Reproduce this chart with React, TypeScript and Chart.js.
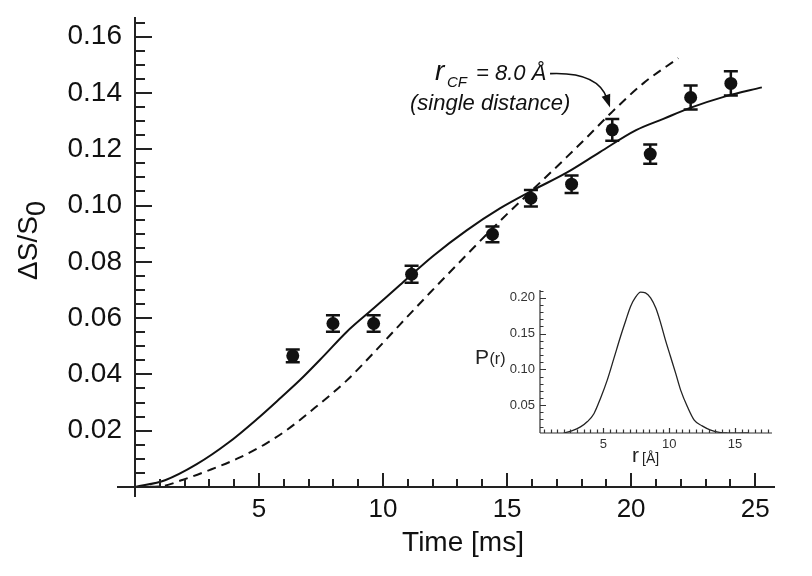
import React, { useEffect, useRef } from 'react';
import { Chart, registerables } from 'chart.js';

Chart.register(...registerables);

const FONT = '"Liberation Sans", Arial, Helvetica, sans-serif';

// ---- Main panel data ----
const timeMs = [6.36, 7.98, 9.62, 11.15, 14.41, 15.96, 17.6, 19.24, 20.77, 22.4, 24.02];
const signal = [0.0466, 0.0581, 0.0581, 0.0756, 0.0898, 0.1026, 0.1076, 0.1269, 0.1183, 0.1384, 0.1434];
const signalErr = [0.0023, 0.0029, 0.0029, 0.003, 0.0028, 0.0029, 0.0031, 0.0039, 0.0034, 0.0043, 0.0043];

const fitTime = [0, 1.21, 2.49, 3.76, 4.9, 5.91, 6.65, 7.6, 8.53, 9.62, 10.68, 12.03, 13.37, 14.71, 16.05, 17.4, 18.74, 20.2, 21.3, 22.38, 23.8, 25.27];
const fitValue = [0, 0.0024, 0.0081, 0.0157, 0.024, 0.032, 0.038, 0.0465, 0.0551, 0.0635, 0.0718, 0.0822, 0.0912, 0.099, 0.1055, 0.1117, 0.119, 0.1268, 0.1308, 0.1347, 0.1388, 0.142];

const singleTime = [0, 1.0, 1.94, 3.0, 4.23, 5.2, 6.11, 7.3, 8.53, 9.6, 10.69, 11.89, 13.37, 14.71, 16.05, 17.4, 18.3, 19.2, 20.5, 21.9];
const singleValue = [0, 0.0002, 0.0026, 0.006, 0.0105, 0.015, 0.0202, 0.0285, 0.0378, 0.0475, 0.0578, 0.069, 0.0825, 0.0945, 0.1058, 0.1172, 0.125, 0.133, 0.1435, 0.1524];

const xTicks = [5, 10, 15, 20, 25];
const yTicks = [0.02, 0.04, 0.06, 0.08, 0.1, 0.12, 0.14, 0.16];

// ---- Inset data: distance distribution ----
const distR = [2.0, 2.6, 3.27, 3.8, 4.29, 4.8, 5.3, 5.8, 6.31, 6.7, 7.07, 7.45, 7.83, 8.2, 8.59, 9.0, 9.35, 9.7, 10.1, 10.5, 10.87, 11.4, 11.9, 12.5, 13.15, 13.8, 14.4, 15.2, 16.0];
const distP = [0.011, 0.014, 0.0195, 0.027, 0.038, 0.06, 0.085, 0.115, 0.146, 0.168, 0.188, 0.201, 0.208, 0.207, 0.2, 0.185, 0.165, 0.142, 0.118, 0.094, 0.071, 0.047, 0.029, 0.021, 0.015, 0.012, 0.011, 0.0108, 0.011];
const insetXTicks = [5, 10, 15];
const insetYTicks = [0.05, 0.1, 0.15, 0.2];

const INK = '#111';

const zeroPad = (s: any) => {
  s.paddingTop = 0;
  s.paddingBottom = 0;
  s.paddingLeft = 0;
  s.paddingRight = 0;
};

const mainDeco = {
  id: 'mainDeco',
  beforeDatasetsDraw(chart: any) {
    const { ctx } = chart;
    const xs = chart.scales.x;
    const ys = chart.scales.y;
    ctx.save();
    ctx.strokeStyle = INK;
    ctx.lineWidth = 2.5;
    timeMs.forEach((t, i) => {
      const px = xs.getPixelForValue(t);
      const top = ys.getPixelForValue(signal[i] + signalErr[i]);
      const bot = ys.getPixelForValue(signal[i] - signalErr[i]);
      ctx.beginPath();
      ctx.moveTo(px, top);
      ctx.lineTo(px, bot);
      ctx.moveTo(px - 7, top);
      ctx.lineTo(px + 7, top);
      ctx.moveTo(px - 7, bot);
      ctx.lineTo(px + 7, bot);
      ctx.stroke();
    });
    ctx.restore();
  },
  afterDraw(chart: any) {
    const { ctx } = chart;
    const xs = chart.scales.x;
    const ys = chart.scales.y;
    const x0 = xs.getPixelForValue(0);
    const y0 = ys.getPixelForValue(0);
    ctx.save();
    ctx.strokeStyle = '#222';
    ctx.lineWidth = 2;
    ctx.beginPath();
    ctx.moveTo(x0 - 18, y0);
    ctx.lineTo(xs.right, y0);
    ctx.moveTo(x0, ys.top);
    ctx.lineTo(x0, y0 + 10);
    for (let t = 1; t <= 25; t++) {
      const px = Math.round(xs.getPixelForValue(t));
      const len = t % 5 === 0 ? 14 : 8;
      ctx.moveTo(px, y0);
      ctx.lineTo(px, y0 - len);
    }
    for (let k = 1; k <= 33; k++) {
      const py = Math.round(ys.getPixelForValue(k * 0.005));
      const len = k % 4 === 0 ? 17 : 10;
      ctx.moveTo(x0, py);
      ctx.lineTo(x0 + len, py);
    }
    ctx.stroke();

    // axis titles
    ctx.fillStyle = INK;
    ctx.font = `28px ${FONT}`;
    ctx.textAlign = 'center';
    ctx.textBaseline = 'alphabetic';
    ctx.fillText('Time [ms]', (xs.left + xs.right) / 2 + 8, 551);

    ctx.save();
    ctx.translate(36.7, 240.5);
    ctx.rotate(-Math.PI / 2);
    ctx.textAlign = 'left';
    ctx.font = `28px ${FONT}`;
    const w1 = ctx.measureText('ΔS/S').width;
    ctx.font = `27px ${FONT}`;
    const w2 = ctx.measureText('0').width;
    const start = -(w1 + w2) / 2;
    ctx.font = `28px ${FONT}`;
    ctx.fillText('ΔS/S', start, 0);
    ctx.font = `27px ${FONT}`;
    ctx.fillText('0', start + w1, 8);
    ctx.restore();

    // annotation
    const tipX = xs.getPixelForValue(19.15);
    const tipY = ys.getPixelForValue(0.1348);
    const ax = tipX - 175;
    const by = tipY - 28;
    ctx.textAlign = 'left';
    ctx.font = `italic 28px ${FONT}`;
    ctx.fillText('r', ax, by);
    ctx.font = `italic 15px ${FONT}`;
    ctx.fillText('CF', ax + 12, by + 7.5);
    ctx.font = `italic 22px ${FONT}`;
    ctx.fillText('= 8.0 Å', ax + 41, by);
    ctx.fillText('(single distance)', ax - 25, by + 30);

    const sx = tipX - 60;
    const sy = tipY - 34;
    const cx = tipX - 12;
    const cy = tipY - 36;
    ctx.lineWidth = 1.6;
    ctx.strokeStyle = INK;
    ctx.beginPath();
    ctx.moveTo(sx, sy);
    ctx.quadraticCurveTo(cx, cy, tipX - 3, tipY - 9);
    ctx.stroke();
    const ang = Math.atan2(tipY - cy, tipX - cx);
    ctx.beginPath();
    ctx.moveTo(tipX, tipY);
    ctx.lineTo(tipX - 13 * Math.cos(ang) + 4.5 * Math.sin(ang), tipY - 13 * Math.sin(ang) - 4.5 * Math.cos(ang));
    ctx.lineTo(tipX - 13 * Math.cos(ang) - 4.5 * Math.sin(ang), tipY - 13 * Math.sin(ang) + 4.5 * Math.cos(ang));
    ctx.closePath();
    ctx.fillStyle = INK;
    ctx.fill();
    ctx.restore();
  },
};

const insetDeco = {
  id: 'insetDeco',
  afterDraw(chart: any) {
    const { ctx } = chart;
    const xs = chart.scales.x;
    const ys = chart.scales.y;
    const left = xs.left;
    const bottom = ys.bottom;
    ctx.save();
    ctx.strokeStyle = '#333';
    ctx.lineWidth = 1.2;
    ctx.beginPath();
    ctx.moveTo(left, bottom);
    ctx.lineTo(xs.right, bottom);
    ctx.moveTo(left, ys.top);
    ctx.lineTo(left, bottom);
    for (let k = 1; k <= 35; k++) {
      const v = k * 0.5;
      if (v < xs.min || v > xs.max) continue;
      const px = Math.round(xs.getPixelForValue(v)) + 0.5;
      const len = k % 10 === 0 ? 5 : 3.5;
      ctx.moveTo(px, bottom);
      ctx.lineTo(px, bottom - len);
    }
    for (let k = 2; k <= 21; k++) {
      const v = k * 0.01;
      const py = Math.round(ys.getPixelForValue(v)) + 0.5;
      const len = k % 5 === 0 ? 6 : 3.5;
      ctx.moveTo(left, py);
      ctx.lineTo(left + len, py);
    }
    ctx.stroke();

    ctx.fillStyle = '#222';
    ctx.textAlign = 'left';
    ctx.textBaseline = 'alphabetic';
    ctx.font = `21px ${FONT}`;
    ctx.fillText('P', 15, 84);
    const pw = ctx.measureText('P').width;
    ctx.font = `16px ${FONT}`;
    ctx.fillText('(r)', 15 + pw + 0.5, 84);

    ctx.font = `21px ${FONT}`;
    ctx.fillText('r', 172, 182);
    const rw = ctx.measureText('r').width;
    ctx.font = `14px ${FONT}`;
    ctx.fillText('[Å]', 172 + rw + 3, 183);
    ctx.restore();
  },
};

export default function App() {
  const mainRef = useRef<HTMLCanvasElement>(null);
  const insetRef = useRef<HTMLCanvasElement>(null);

  useEffect(() => {
    const mainChart = new Chart(mainRef.current as HTMLCanvasElement, {
      type: 'scatter',
      data: {
        datasets: [
          {
            label: 'distribution fit',
            data: fitTime.map((t, i) => ({ x: t, y: fitValue[i] })),
            showLine: true,
            borderColor: INK,
            borderWidth: 2,
            pointRadius: 0,
            cubicInterpolationMode: 'monotone',
          },
          {
            label: 'single distance',
            data: singleTime.map((t, i) => ({ x: t, y: singleValue[i] })),
            showLine: true,
            borderColor: INK,
            borderWidth: 2,
            borderDash: [9, 6],
            pointRadius: 0,
            cubicInterpolationMode: 'monotone',
          },
          {
            label: 'data',
            data: timeMs.map((t, i) => ({ x: t, y: signal[i] })),
            showLine: false,
            pointRadius: 6.5,
            pointBackgroundColor: INK,
            pointBorderWidth: 0,
            borderColor: INK,
          },
        ],
      } as any,
      options: {
        animation: false,
        responsive: false,
        maintainAspectRatio: false,
        events: [],
        layout: { padding: { top: 17, right: 37, left: 0, bottom: 0 } },
        plugins: { legend: { display: false }, tooltip: { enabled: false } },
        scales: {
          x: {
            type: 'linear',
            min: 0,
            max: 25.8,
            grid: { display: false, drawTicks: false },
            border: { display: false },
            afterBuildTicks: (s: any) => {
              s.ticks = xTicks.map((v) => ({ value: v }));
            },
            afterFit: (s: any) => {
              s.height = 89;
              zeroPad(s);
            },
            ticks: {
              font: { family: FONT, size: 26 },
              color: INK,
              padding: 7,
              autoSkip: false,
              maxRotation: 0,
              callback: (v: any) => String(v),
            },
          },
          y: {
            type: 'linear',
            min: 0,
            max: 0.167,
            grid: { display: false, drawTicks: false },
            border: { display: false },
            afterBuildTicks: (s: any) => {
              s.ticks = yTicks.map((v) => ({ value: v }));
            },
            afterFit: (s: any) => {
              s.width = 135;
              zeroPad(s);
            },
            ticks: {
              font: { family: FONT, size: 28 },
              color: INK,
              padding: 13,
              autoSkip: false,
              callback: (v: any) => Number(v).toFixed(2),
            },
          },
        },
      } as any,
      plugins: [mainDeco],
    });

    const insetChart = new Chart(insetRef.current as HTMLCanvasElement, {
      type: 'scatter',
      data: {
        datasets: [
          {
            label: 'P(r)',
            data: distR.map((r, i) => ({ x: r, y: distP[i] })),
            showLine: true,
            borderColor: '#222',
            borderWidth: 1.3,
            pointRadius: 0,
            cubicInterpolationMode: 'monotone',
          },
        ],
      } as any,
      options: {
        animation: false,
        responsive: false,
        maintainAspectRatio: false,
        events: [],
        layout: { padding: { top: 10, right: 18, left: 0, bottom: 0 } },
        plugins: { legend: { display: false }, tooltip: { enabled: false } },
        scales: {
          x: {
            type: 'linear',
            min: 0.2,
            max: 17.8,
            grid: { display: false, drawTicks: false },
            border: { display: false },
            afterBuildTicks: (s: any) => {
              s.ticks = insetXTicks.map((v) => ({ value: v }));
            },
            afterFit: (s: any) => {
              s.height = 37;
              zeroPad(s);
            },
            ticks: {
              font: { family: FONT, size: 13 },
              color: '#333',
              padding: 4,
              autoSkip: false,
              maxRotation: 0,
              callback: (v: any) => String(v),
            },
          },
          y: {
            type: 'linear',
            min: 0.011,
            max: 0.211,
            grid: { display: false, drawTicks: false },
            border: { display: false },
            afterBuildTicks: (s: any) => {
              s.ticks = insetYTicks.map((v) => ({ value: v }));
            },
            afterFit: (s: any) => {
              s.width = 80;
              zeroPad(s);
            },
            ticks: {
              font: { family: FONT, size: 13 },
              color: '#333',
              padding: 5,
              autoSkip: false,
              callback: (v: any) => Number(v).toFixed(2),
            },
          },
        },
      } as any,
      plugins: [insetDeco],
    });

    return () => {
      mainChart.destroy();
      insetChart.destroy();
    };
  }, []);

  return (
    <div style={{ position: 'fixed', left: 0, top: 0, width: 812, height: 576, background: '#fff' }}>
      <canvas ref={mainRef} width={812} height={576} style={{ position: 'absolute', left: 0, top: 0 }} />
      <canvas ref={insetRef} width={330} height={190} style={{ position: 'absolute', left: 460, top: 280 }} />
    </div>
  );
}
